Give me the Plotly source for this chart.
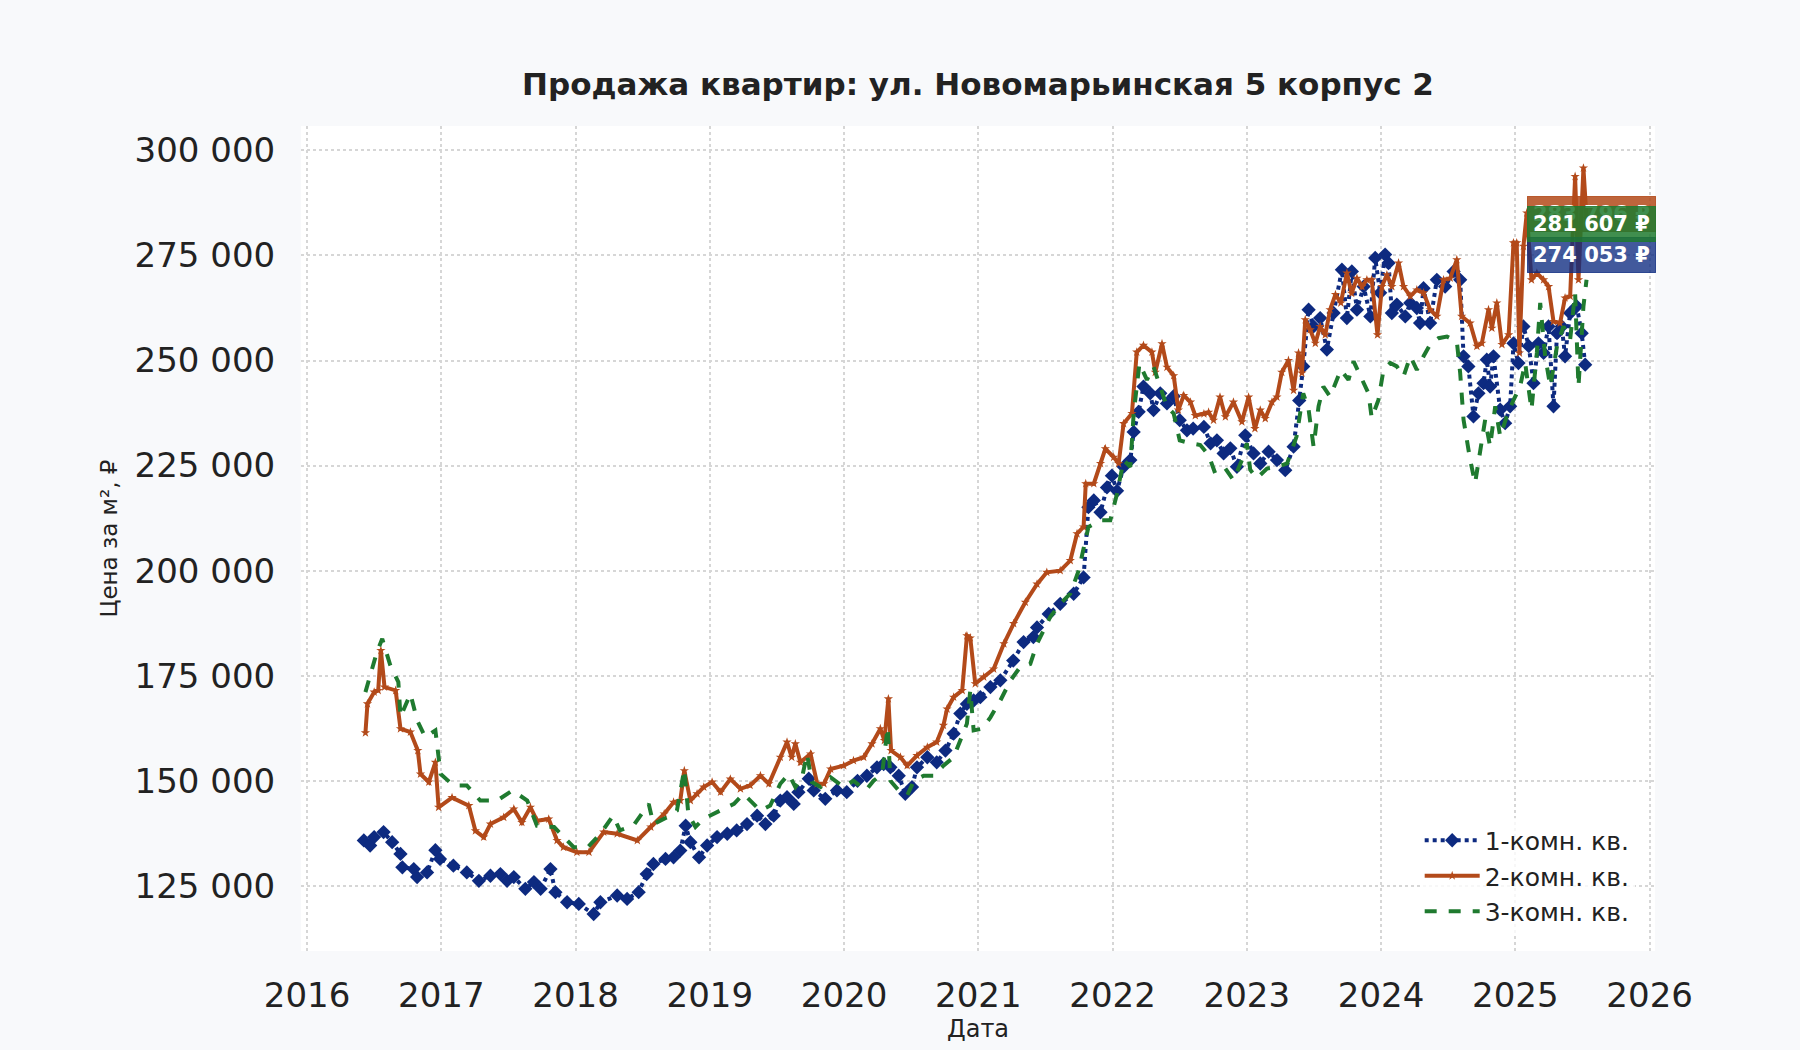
"""Apartment sale price per m² chart: ul. Novomaryinskaya 5 k2."""

import plotly.graph_objects as go

FONT = "DejaVu Sans"

# 1-room flats: decimal year, price per m²
one_room_x = [
    2016.423, 2016.47, 2016.50, 2016.57, 2016.634, 2016.696, 2016.71, 2016.795, 2016.82, 2016.894,
    2016.956, 2016.99, 2017.09, 2017.19, 2017.28, 2017.366, 2017.44, 2017.49, 2017.54, 2017.626,
    2017.69, 2017.74, 2017.813, 2017.85, 2017.937, 2018.024, 2018.135, 2018.185, 2018.31, 2018.384,
    2018.47, 2018.53, 2018.58, 2018.67, 2018.73, 2018.78, 2018.82, 2018.855, 2018.92, 2018.98,
    2019.054, 2019.13, 2019.20, 2019.277, 2019.352, 2019.414, 2019.476, 2019.525, 2019.575, 2019.625,
    2019.66, 2019.737, 2019.774, 2019.86, 2019.947, 2020.02, 2020.10, 2020.17, 2020.245, 2020.295,
    2020.345, 2020.407, 2020.456, 2020.506, 2020.543, 2020.62, 2020.69, 2020.755, 2020.816, 2020.866,
    2020.915, 2020.965, 2021.015, 2021.09, 2021.164, 2021.26, 2021.337, 2021.41, 2021.437, 2021.524,
    2021.61, 2021.71, 2021.784, 2021.82, 2021.86, 2021.91, 2021.958, 2021.995, 2022.033, 2022.082,
    2022.132, 2022.157, 2022.194, 2022.23, 2022.28, 2022.305, 2022.355, 2022.405, 2022.455, 2022.50,
    2022.554, 2022.60, 2022.68, 2022.73, 2022.777, 2022.827, 2022.877, 2022.926, 2022.988, 2023.05,
    2023.10, 2023.162, 2023.224, 2023.286, 2023.348, 2023.39, 2023.42, 2023.46, 2023.497, 2023.546,
    2023.596, 2023.646, 2023.708, 2023.745, 2023.782, 2023.82, 2023.87, 2023.92, 2023.956, 2023.993,
    2024.03, 2024.055, 2024.08, 2024.117, 2024.18, 2024.217, 2024.266, 2024.29, 2024.316, 2024.365,
    2024.415, 2024.477, 2024.54, 2024.589, 2024.614, 2024.65, 2024.688, 2024.725, 2024.763, 2024.787,
    2024.812, 2024.837, 2024.887, 2024.924, 2024.961, 2024.986, 2025.023, 2025.06, 2025.10, 2025.135,
    2025.172, 2025.21, 2025.247, 2025.284, 2025.31, 2025.346, 2025.37, 2025.408, 2025.457, 2025.494,
    2025.52,
]
one_room_y = [
    135800, 134600, 136600, 137800, 135400, 132600, 129400, 129000, 127100, 128200,
    133500, 131400, 129800, 128200, 126200, 127400, 127800, 126200, 127100, 124300,
    125900, 124300, 129000, 123500, 121100, 120700, 118300, 121100, 122700, 121900,
    123500, 127800, 130200, 131400, 131800, 133400, 139300, 135400, 131800, 134600,
    136600, 137400, 138200, 139700, 141700, 139700, 141700, 145300, 146100, 144500,
    147300, 150500, 147700, 145700, 147700, 147300, 150000, 151200, 153200, 154000,
    153200, 151200, 146900, 148500, 153200, 155600, 154400, 157200, 161200, 166000,
    168300, 169100, 169900, 172300, 173900, 178600, 183000, 184200, 186500, 189700,
    192100, 194500, 198400, 215100, 216700, 213900, 219800, 222600, 219000, 224700,
    226300, 233000, 237800, 243800, 242200, 238200, 242200, 239800, 241500, 235800,
    233400, 233800, 234200, 230300, 231000, 227900, 229100, 224700, 232200, 227900,
    225500, 228300, 226300, 223900, 229500, 240500, 248600, 262100, 258100, 260100,
    252600, 261300, 271600, 260100, 271200, 262100, 267600, 260500, 274400, 266100,
    275200, 273200, 261300, 263300, 260500, 263700, 262500, 258900, 267200, 258900,
    269200, 267600, 271200, 269200, 251000, 248600, 236700, 242200, 244600, 250200,
    243800, 251000, 238300, 235100, 239100, 254100, 249400, 258100, 253400, 244600,
    254100, 251800, 258100, 239100, 256500, 258100, 251000, 261300, 262900, 256500,
    249000,
]

# 2-room flats
two_room_x = [
    2016.435, 2016.45, 2016.50, 2016.53, 2016.55, 2016.577, 2016.66, 2016.696, 2016.77, 2016.825,
    2016.845, 2016.907, 2016.956, 2016.98, 2017.08, 2017.205, 2017.254, 2017.316, 2017.366, 2017.465,
    2017.54, 2017.60, 2017.664, 2017.713, 2017.80, 2017.862, 2017.91, 2018.01, 2018.10, 2018.21,
    2018.31, 2018.46, 2018.56, 2018.66, 2018.73, 2018.78, 2018.81, 2018.855, 2018.905, 2018.955,
    2019.017, 2019.08, 2019.153, 2019.228, 2019.30, 2019.377, 2019.44, 2019.525, 2019.575, 2019.61,
    2019.637, 2019.675, 2019.75, 2019.80, 2019.85, 2019.90, 2019.997, 2020.07, 2020.146, 2020.208,
    2020.27, 2020.30, 2020.33, 2020.35, 2020.42, 2020.47, 2020.543, 2020.62, 2020.69, 2020.74,
    2020.767, 2020.816, 2020.88, 2020.915, 2020.94, 2020.977, 2021.04, 2021.114, 2021.19, 2021.263,
    2021.35, 2021.437, 2021.51, 2021.61, 2021.685, 2021.735, 2021.784, 2021.80, 2021.86, 2021.91,
    2021.946, 2022.008, 2022.045, 2022.082, 2022.144, 2022.18, 2022.23, 2022.293, 2022.318, 2022.368,
    2022.405, 2022.455, 2022.49, 2022.53, 2022.58, 2022.616, 2022.68, 2022.715, 2022.752, 2022.80,
    2022.84, 2022.90, 2022.963, 2023.013, 2023.06, 2023.10, 2023.137, 2023.187, 2023.224, 2023.26,
    2023.31, 2023.348, 2023.385, 2023.41, 2023.435, 2023.472, 2023.51, 2023.546, 2023.584, 2023.62,
    2023.66, 2023.70, 2023.745, 2023.78, 2023.82, 2023.857, 2023.894, 2023.93, 2023.973, 2024.006,
    2024.043, 2024.08, 2024.13, 2024.167, 2024.217, 2024.266, 2024.316, 2024.365, 2024.415, 2024.465,
    2024.515, 2024.564, 2024.60, 2024.663, 2024.713, 2024.75, 2024.80, 2024.825, 2024.862, 2024.90,
    2024.95, 2024.986, 2025.01, 2025.03, 2025.06, 2025.085, 2025.12, 2025.16, 2025.21, 2025.247,
    2025.284, 2025.333, 2025.37, 2025.408, 2025.445, 2025.47, 2025.507, 2025.53,
]
two_room_y = [
    161400, 168300, 171100, 171500, 181000, 172300, 171500, 162400, 161600, 157200,
    151600, 149700, 154400, 143700, 146000, 144100, 138100, 136600, 139700, 141300,
    143300, 140100, 143700, 140500, 140900, 135800, 134200, 133000, 133000, 137800,
    137400, 135800, 139000, 142100, 144900, 145300, 152400, 145300, 146900, 148500,
    149700, 147300, 150400, 148100, 148900, 151200, 149300, 155600, 159200, 155600,
    158800, 154400, 156400, 149300, 149300, 152800, 153600, 154800, 155600, 158800,
    162400, 159600, 169500, 157200, 155600, 153600, 156000, 158000, 159200, 163200,
    167100, 169900, 171500, 184500, 184000, 173100, 174700, 176600, 182600, 187400,
    192500, 196800, 199600, 200000, 202400, 208800, 210400, 220700, 220700, 225500,
    229000, 227000, 225500, 235000, 237400, 252000, 253600, 252000, 247200, 254000,
    248400, 246400, 238200, 241700, 240100, 236900, 237300, 237700, 235800, 241300,
    236600, 240100, 235400, 241300, 233800, 238200, 236200, 240100, 241300, 247200,
    250000, 242900, 251800, 247000, 259700, 257300, 254100, 258100, 256100, 262100,
    265700, 263700, 270800, 266000, 269600, 267600, 269200, 269200, 256100, 267600,
    270400, 267600, 273200, 267600, 265300, 266800, 266100, 262100, 260500, 269200,
    269600, 274000, 260500, 258900, 253400, 254100, 262100, 257700, 263700, 253800,
    256100, 278000, 278000, 251800, 277200, 285100, 269200, 270800, 269200, 267600,
    259300, 258900, 264900, 265300, 293800, 269200, 295800, 283800,
]

# 3-room flats
three_room_x = [
    2016.435, 2016.52, 2016.56, 2016.62, 2016.68, 2016.696, 2016.77, 2016.82, 2016.88, 2016.956,
    2016.995, 2017.09, 2017.19, 2017.29, 2017.416, 2017.53, 2017.64, 2017.713, 2017.84, 2017.986,
    2018.09, 2018.185, 2018.28, 2018.33, 2018.43, 2018.545, 2018.58, 2018.68, 2018.755, 2018.81,
    2018.84, 2018.893, 2018.955, 2019.03, 2019.10, 2019.18, 2019.25, 2019.315, 2019.377, 2019.45,
    2019.525, 2019.588, 2019.637, 2019.687, 2019.724, 2019.76, 2019.825, 2019.90, 2019.997, 2020.07,
    2020.16, 2020.22, 2020.283, 2020.325, 2020.345, 2020.407, 2020.47, 2020.52, 2020.593, 2020.668,
    2020.74, 2020.816, 2020.866, 2020.915, 2020.94, 2020.965, 2021.03, 2021.09, 2021.164, 2021.24,
    2021.31, 2021.387, 2021.437, 2021.536, 2021.61, 2021.685, 2021.747, 2021.784, 2021.82, 2021.91,
    2021.983, 2022.033, 2022.082, 2022.132, 2022.157, 2022.20, 2022.256, 2022.305, 2022.355, 2022.405,
    2022.455, 2022.50, 2022.58, 2022.653, 2022.715, 2022.765, 2022.84, 2022.90, 2022.963, 2023.00,
    2023.025, 2023.075, 2023.15, 2023.224, 2023.30, 2023.37, 2023.42, 2023.46, 2023.497, 2023.534,
    2023.57, 2023.62, 2023.70, 2023.757, 2023.795, 2023.844, 2023.906, 2023.93, 2023.98, 2024.018,
    2024.068, 2024.117, 2024.167, 2024.217, 2024.266, 2024.316, 2024.365, 2024.427, 2024.49, 2024.564,
    2024.589, 2024.614, 2024.663, 2024.70, 2024.738, 2024.775, 2024.812, 2024.85, 2024.887, 2024.936,
    2024.986, 2025.035, 2025.073, 2025.12, 2025.16, 2025.185, 2025.222, 2025.26, 2025.31, 2025.358,
    2025.408, 2025.445, 2025.47, 2025.507, 2025.53,
]
three_room_y = [
    171100, 180600, 183800, 177500, 173500, 165200, 170700, 164400, 160400, 162000,
    151600, 148900, 148900, 145300, 145300, 147700, 145300, 139300, 139000, 134200,
    134200, 137400, 141700, 138200, 139300, 144500, 139700, 141300, 142900, 152800,
    142100, 139000, 141000, 142100, 143300, 144500, 146900, 144900, 142900, 144100,
    149300, 151600, 148500, 150800, 156400, 149700, 148500, 150800, 148500, 150000,
    147700, 150000, 151600, 162800, 150000, 147700, 146500, 150000, 151200, 151200,
    153600, 155600, 159600, 163600, 171500, 162000, 162400, 165100, 169100, 173900,
    177000, 177800, 182600, 189000, 192100, 194500, 200000, 205600, 210400, 212000,
    212000, 218300, 226300, 224700, 237400, 249300, 245400, 248500, 243800, 239000,
    237400, 231000, 230300, 229900, 227500, 223100, 224300, 221500, 226300, 230300,
    224000, 222000, 224300, 224700, 225500, 231900, 242200, 238300, 229500, 239100,
    243800, 241400, 247800, 245400, 249800, 246200, 242200, 236300, 240600, 247800,
    249400, 248600, 246200, 251000, 247800, 251000, 253800, 255300, 255700, 254500,
    247000, 235900, 226400, 220800, 228000, 235900, 229500, 239100, 231900, 236700,
    240600, 243800, 249400, 238300, 251800, 263700, 251000, 243800, 253400, 258100,
    255000, 266100, 243800, 262900, 269200,
]

# end-of-series price labels
label_x = 2025.57
label_values = [274053, 283796, 281607]
label_texts = ["274 053 ₽", "283 796 ₽", "281 607 ₽"]

names = ["1-комн. кв.", "2-комн. кв.", "3-комн. кв."]
colors = ["#0d2a80", "#b34a1a", "#1f7a2f"]
label_bg = ["rgba(13,42,128,0.78)", "rgba(179,74,26,0.85)", "rgba(31,122,47,0.85)"]

year_ticks = list(range(2016, 2027))
price_ticks = [125000, 150000, 175000, 200000, 225000, 250000, 275000, 300000]

fig = go.Figure()

fig.add_trace(
    go.Scatter(
        x=one_room_x,
        y=one_room_y,
        mode="lines+markers",
        name=names[0],
        line=dict(color=colors[0], width=4, dash="dot"),
        marker=dict(symbol="diamond", size=11, color=colors[0]),
    )
)
fig.add_trace(
    go.Scatter(
        x=two_room_x,
        y=two_room_y,
        mode="lines+markers",
        name=names[1],
        line=dict(color=colors[1], width=4),
        marker=dict(symbol="star", size=7, color=colors[1]),
    )
)
fig.add_trace(
    go.Scatter(
        x=three_room_x,
        y=three_room_y,
        mode="lines",
        name=names[2],
        line=dict(color=colors[2], width=4, dash="dash"),
    )
)

for value, text, bg in zip(label_values, label_texts, label_bg):
    fig.add_annotation(
        x=label_x,
        y=value,
        yshift=4,
        text=f"<b>{text}</b>",
        showarrow=False,
        xanchor="center",
        yanchor="middle",
        font=dict(family=FONT, size=21, color="white"),
        bgcolor=bg,
        bordercolor=bg,
        borderwidth=1,
        borderpad=5,
    )

fig.update_layout(
    width=1800,
    height=1050,
    paper_bgcolor="#f8f9fb",
    plot_bgcolor="white",
    separators=", ",
    font=dict(family=FONT, color="#222222"),
    margin=dict(l=301, r=145, t=126, b=99, autoexpand=False),
    title=dict(
        text="<b>Продажа квартир: ул. Новомарьинская 5 корпус 2</b>",
        x=0.5,
        xref="paper",
        xanchor="center",
        y=0.92,
        yanchor="middle",
        font=dict(family=FONT, size=31, color="#222222"),
    ),
    showlegend=True,
    legend=dict(
        x=0.985,
        y=0.02,
        xanchor="right",
        yanchor="bottom",
        bgcolor="rgba(255,255,255,0.8)",
        borderwidth=0,
        font=dict(family=FONT, size=25, color="#222222"),
        itemwidth=55,
    ),
)

fig.update_xaxes(
    range=[2015.955, 2026.04],
    tickvals=year_ticks,
    tickformat="d",
    tickfont=dict(family=FONT, size=34, color="#222222"),
    ticks="outside",
    ticklen=14,
    tickcolor="rgba(0,0,0,0)",
    showgrid=True,
    gridcolor="#d6d6d6",
    gridwidth=2,
    griddash="dot",
    zeroline=False,
    showline=False,
    title=dict(text="Дата", font=dict(family=FONT, size=24, color="#222222"), standoff=6),
    automargin=False,
)
fig.update_yaxes(
    range=[109500, 305800],
    tickvals=price_ticks,
    tickformat=",d",
    tickfont=dict(family=FONT, size=34, color="#222222"),
    ticks="outside",
    ticklen=18,
    tickcolor="rgba(0,0,0,0)",
    showgrid=True,
    gridcolor="#d6d6d6",
    gridwidth=2,
    griddash="dot",
    zeroline=False,
    showline=False,
    title=dict(text="Цена за м², ₽", font=dict(family=FONT, size=23, color="#222222"), standoff=10),
    automargin=False,
)

# drop the default page margin so the figure fills the window
fig.write_html(
    "out.html",
    config={"displayModeBar": False},
    post_script="document.body.style.margin = '0';",
)
